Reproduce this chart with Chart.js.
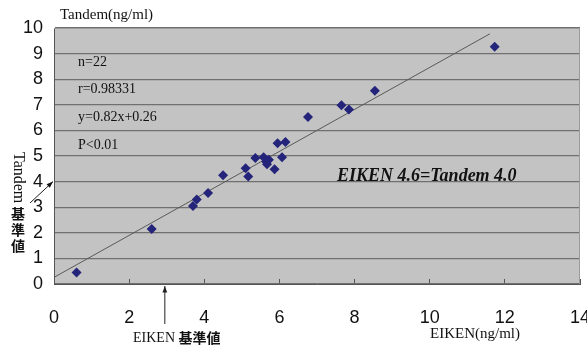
<!doctype html>
<html lang="ja">
  <head>
    <meta charset="utf-8">
    <title>EIKEN vs Tandem</title>
    <style>
      html, body { margin: 0; padding: 0; background: #fff; }
      #box { width: 587px; height: 347px; position: relative; }
    </style>
  </head>
  <body>
    <div id="box"><canvas id="myChart"></canvas></div>

    <script src="https://cdn.jsdelivr.net/npm/chart.js@4/dist/chart.umd.min.js"></script>
    <script>
        // EIKEN (x) vs Tandem (y)
        var eiken  = [0.6, 2.6, 3.7, 3.8, 4.1, 4.5, 5.1, 5.17, 5.36, 5.58, 5.65, 5.67, 5.72,
                      5.87, 5.95, 6.07, 6.16, 6.76, 7.65, 7.85, 8.54, 11.73]
        var tandem = [0.45, 2.15, 3.05, 3.3, 3.55, 4.25, 4.52, 4.2, 4.92, 4.95, 4.78, 4.68, 4.85,
                      4.48, 5.5, 4.95, 5.55, 6.52, 6.98, 6.82, 7.55, 9.27]
        // regression line y = 0.82x + 0.26
        var slope = 0.82
        var intercept = 0.26
        var lineX = [0, 11.6]
        var xTicks = [0, 2, 4, 6, 8, 10, 12, 14]
        var yTicks = [0, 1, 2, 3, 4, 5, 6, 7, 8, 9, 10]
        var statsText = ['n=22', 'r=0.98331', 'y=0.82x+0.26', 'P<0.01']
        var refX = 2.95   // EIKEN 基準値 arrow
        var refY = 4      // Tandem 基準値 arrow

        var points = eiken.map(function (x, i) { return {x: x, y: tandem[i]} })
        var trend = lineX.map(function (x) { return {x: x, y: slope * x + intercept} })

        var serif = '"Liberation Serif", "Times New Roman", serif'
        var sans = '"Liberation Sans", Arial, sans-serif'

        function arrow(ctx, x1, y1, x2, y2) {
            var a = Math.atan2(y2 - y1, x2 - x1)
            ctx.beginPath()
            ctx.moveTo(x1, y1)
            ctx.lineTo(x2, y2)
            ctx.stroke()
            ctx.beginPath()
            ctx.moveTo(x2, y2)
            ctx.lineTo(x2 - 7 * Math.cos(a - 0.35), y2 - 7 * Math.sin(a - 0.35))
            ctx.lineTo(x2 - 7 * Math.cos(a + 0.35), y2 - 7 * Math.sin(a + 0.35))
            ctx.closePath()
            ctx.fill()
        }

        var plotBg = {
            id: 'plotBg',
            beforeDraw: function (chart) {
                var c = chart.ctx, a = chart.chartArea
                c.save()
                c.fillStyle = '#c3c3c3'
                c.fillRect(a.left, a.top, a.right - a.left, a.bottom - a.top)
                c.restore()
            },
            afterDraw: function (chart) {
                var c = chart.ctx, a = chart.chartArea
                var xs = chart.scales.x, ys = chart.scales.y
                c.save()
                // light frame top/right
                c.strokeStyle = '#9a9a9a'
                c.lineWidth = 1
                c.beginPath()
                c.moveTo(a.left, a.top + 0.5)
                c.lineTo(a.right - 0.5, a.top + 0.5)
                c.lineTo(a.right - 0.5, a.bottom)
                c.stroke()

                c.fillStyle = '#111'
                c.textBaseline = 'middle'
                c.textAlign = 'left'
                c.font = '15px ' + serif
                c.fillText('Tandem(ng/ml)', 60, 15)
                c.fillText('EIKEN(ng/ml)', 430, 334)

                c.font = '14px ' + serif
                statsText.forEach(function (t, i) {
                    c.fillText(t, 78, 62 + i * 27.7)
                })

                c.font = 'italic bold 18px ' + serif
                c.fillText('EIKEN 4.6=Tandem 4.0', 337, 176)

                // EIKEN 基準値
                c.font = '14px ' + serif
                c.fillText('EIKEN', 133, 338)
                var w = c.measureText('EIKEN ').width
                c.font = 'bold 14px "Noto Sans CJK JP", sans-serif'
                c.fillText('基準値', 133 + w, 338)
                c.strokeStyle = '#222'
                c.fillStyle = '#222'
                c.lineWidth = 1
                var ax = xs.getPixelForValue(refX)
                arrow(c, ax, 324, ax, a.bottom + 2)

                // Tandem 基準値 (vertical)
                c.fillStyle = '#111'
                c.save()
                c.translate(18, 152)
                c.rotate(Math.PI / 2)
                c.textAlign = 'left'
                c.font = '16px ' + serif
                c.fillText('Tandem', 0, 0)
                c.restore()
                c.font = 'bold 14px "Noto Sans CJK JP", sans-serif'
                c.textAlign = 'center'
                c.fillText('基', 18, 214)
                c.fillText('準', 18, 230)
                c.fillText('値', 18, 246)
                var ay = ys.getPixelForValue(refY)
                arrow(c, 30, 203, a.left - 1, ay)
                c.restore()
            }
        }

        var ctx = document.getElementById('myChart').getContext('2d')
        var chart = new Chart(ctx, {
            type: 'scatter',
            data: {
                datasets: [{
                    label: 'data',
                    data: points,
                    pointStyle: 'rectRot',
                    pointRadius: 5,
                    backgroundColor: '#24247a',
                    borderColor: '#24247a',
                    borderWidth: 0
                },
                {
                    label: 'fit',
                    type: 'line',
                    data: trend,
                    borderColor: '#5a5a5a',
                    borderWidth: 1,
                    pointRadius: 0,
                    fill: false
                }]
            },
            options: {
                responsive: true,
                maintainAspectRatio: false,
                animation: false,
                layout: { padding: { top: 28, right: 7, left: 0, bottom: 0 } },
                plugins: { legend: { display: false }, tooltip: { enabled: false } },
                scales: {
                    x: {
                        type: 'linear', min: 0, max: 14,
                        afterBuildTicks: function (s) { s.ticks = xTicks.map(function (v) { return {value: v} }) },
                        afterFit: function (s) { s.height = 63; s.paddingLeft = 0; s.paddingRight = 0 },
                        grid: { drawOnChartArea: false, tickLength: -5, color: '#555' },
                        border: { color: '#555', width: 1 },
                        ticks: { autoSkip: false, maxRotation: 0, padding: 28, color: '#111', font: { family: sans, size: 18 } }
                    },
                    y: {
                        type: 'linear', min: 0, max: 10,
                        afterBuildTicks: function (s) { s.ticks = yTicks.map(function (v) { return {value: v} }) },
                        afterFit: function (s) { s.width = 54 },
                        grid: { drawTicks: false, color: '#707070', lineWidth: 1.2 },
                        border: { color: '#555', width: 1 },
                        ticks: { autoSkip: false, padding: 11, color: '#111', font: { family: sans, size: 18 } }
                    }
                }
            },
            plugins: [plotBg]
        })
    </script>
  </body>
</html>
